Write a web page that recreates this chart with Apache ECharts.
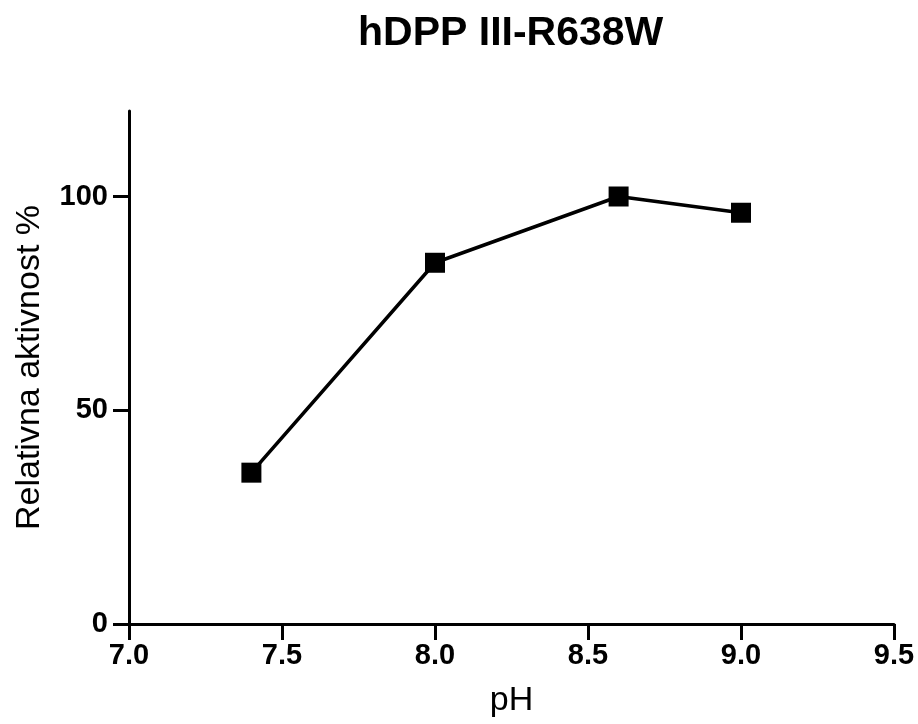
<!DOCTYPE html>
<html>
<head>
<meta charset="utf-8">
<script src="https://cdn.jsdelivr.net/npm/echarts@6/dist/echarts.min.js"></script>
<style>
html,body{margin:0;padding:0;background:#fff;}
#chart{width:918px;height:724px;}
</style>
</head>
<body>
<div id="chart"></div>
<script>
const titleText = 'hDPP III-R638W';
const xName = 'pH';
const yName = 'Relativna aktivnost %';
const phValues = [7.4, 8.0, 8.6, 9.0];
const activity = [35.4, 84.5, 100, 96.2];
const yTickLabels = ['0', '50', '100'];

const FONT = '"Liberation Sans", Arial, sans-serif';
const chart = echarts.init(document.getElementById('chart'), null, {renderer: 'canvas'});
chart.setOption({
  animation: false,
  backgroundColor: '#fff',
  title: {
    text: titleText,
    left: 353,
    top: 8,
    textStyle: {fontFamily: FONT, fontWeight: 'bold', fontSize: 41, color: '#000'}
  },
  grid: {left: 129, right: 24, top: 111, bottom: 100, containLabel: false},
  xAxis: {
    type: 'value',
    min: 7.0, max: 9.5, interval: 0.5,
    name: xName,
    nameLocation: 'middle',
    nameGap: 60,
    nameTextStyle: {fontFamily: FONT, fontSize: 34, color: '#000'},
    axisLine: {show: true, onZero: false, lineStyle: {color: '#000', width: 3}},
    axisTick: {show: true, inside: false, length: 16, lineStyle: {color: '#000', width: 3}},
    axisLabel: {
      show: true,
      margin: 17,
      fontFamily: FONT, fontWeight: 'bold', fontSize: 29, color: '#000',
      formatter: v => v.toFixed(1)
    },
    splitLine: {show: false}
  },
  yAxis: {
    type: 'value',
    min: 0, max: 120, interval: 50,
    name: yName,
    nameLocation: 'middle',
    nameGap: 82,
    nameRotate: 90,
    nameTextStyle: {fontFamily: FONT, fontSize: 34, color: '#000'},
    axisLine: {show: true, onZero: false, lineStyle: {color: '#000', width: 3}},
    axisTick: {show: true, inside: false, length: 16, lineStyle: {color: '#000', width: 3}},
    axisLabel: {
      show: true,
      margin: 21,
      showMaxLabel: false,
      fontFamily: FONT, fontWeight: 'bold', fontSize: 29, color: '#000',
      formatter: v => (yTickLabels.indexOf(String(v)) >= 0 ? String(v) : '')
    },
    splitLine: {show: false}
  },
  series: [{
    type: 'line',
    data: phValues.map((x, i) => [x, activity[i]]),
    symbol: 'rect',
    symbolSize: 20,
    itemStyle: {color: '#000'},
    lineStyle: {color: '#000', width: 3.5},
    z: 3
  }]
});
</script>
</body>
</html>
